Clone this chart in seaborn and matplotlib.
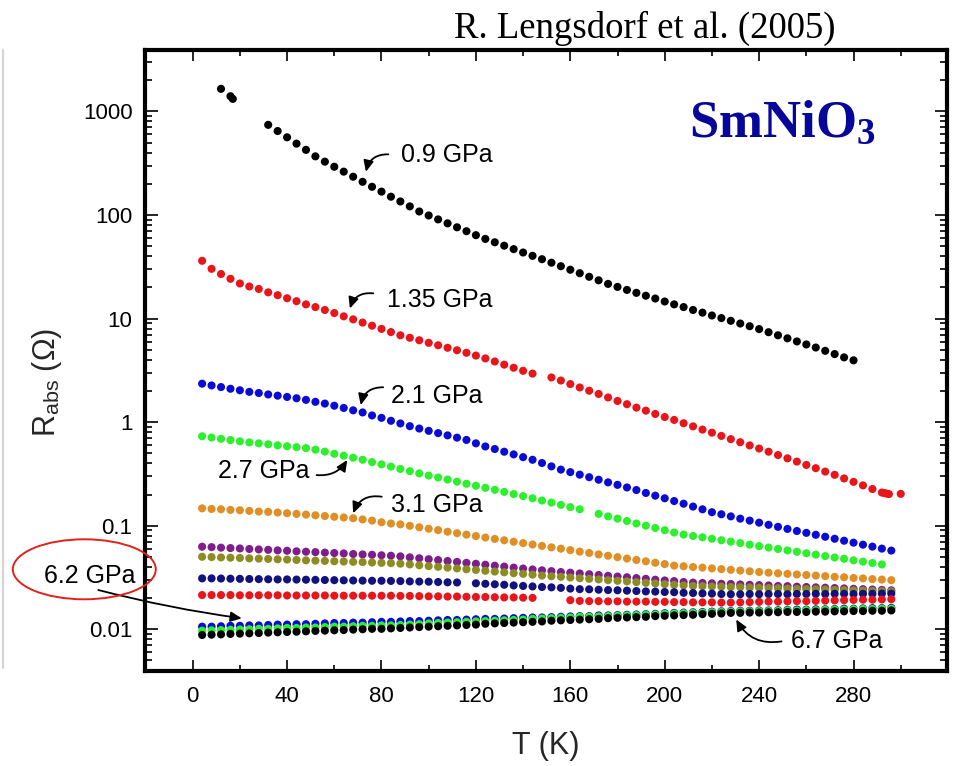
import matplotlib
matplotlib.use("Agg")
import matplotlib.pyplot as plt
import numpy as np
import pandas as pd
import seaborn as sns
from matplotlib.ticker import MultipleLocator, LogLocator, NullFormatter, FixedLocator, FixedFormatter
from matplotlib.patches import Ellipse
from matplotlib.lines import Line2D

# ---------------------------------------------------------------- data
T_FULL = [4, 8, 12, 16, 20, 24, 28, 32, 36, 40, 44, 48, 52, 56, 60, 64, 68, 72, 76, 80,
          84, 88, 92, 96, 100, 104, 108, 112, 116, 120, 124, 128, 132, 136, 140, 144, 148,
          152, 156, 160, 164, 168, 172, 176, 180, 184, 188, 192, 196, 200, 204, 208, 212,
          216, 220, 224, 228, 232, 236, 240, 244, 248, 252, 256, 260, 264, 268, 272, 276,
          280, 284, 288, 292, 296]

# 0.9 GPa (black)
T_09 = [12, 16, 17, 32, 36, 40, 44, 48, 52, 56, 60, 64, 68, 72, 76, 80, 84, 88, 92, 96, 100,
        104, 108, 112, 116, 120, 124, 128, 132, 136, 140, 144, 148, 152, 156, 160, 164, 168,
        172, 176, 180, 184, 188, 192, 196, 200, 204, 208, 212, 216, 220, 224, 228, 232, 236,
        240, 244, 248, 252, 256, 260, 264, 268, 272, 276, 280]
R_09 = [1650, 1400, 1320,
        741, 646, 562, 488, 425, 368, 327, 292, 262, 234,
        209, 187, 168, 150, 135, 121, 108, 98.9, 90.6, 83.0,
        76.0, 69.7, 63.8, 58.7, 54.5, 50.5, 46.8, 43.4, 40.3, 37.4,
        34.6, 32.0, 29.6, 27.4, 25.3, 23.4, 21.6, 20.2, 18.9, 17.7,
        16.6, 15.6, 14.6, 13.7, 12.9, 12.1, 11.4, 10.7, 10.1, 9.51,
        8.95, 8.43, 7.91, 7.38, 6.89, 6.44, 6.01, 5.62, 5.25, 4.88,
        4.54, 4.22, 3.95]

# 1.35 GPa (red)
T_135 = [4, 8, 12, 16, 20, 24, 28, 32, 36, 40, 44, 48, 52, 56, 60, 64, 68, 72, 76, 80, 84,
         88, 92, 96, 100, 104, 108, 112, 116, 120, 124, 128, 132, 136, 140, 144,
         152, 156, 160, 164, 168, 172, 176, 180, 184, 188, 192, 196, 200, 204, 208, 212,
         216, 220, 224, 228, 232, 236, 240, 244, 248, 252, 256, 260, 264, 268, 272, 276,
         280, 284, 288, 292, 293, 294, 295, 300]
R_135 = [36.1, 30.2, 26.9, 24.2, 21.8, 20.4, 19.3, 17.9, 16.8, 15.7, 14.7, 13.7, 12.9, 12.1,
         11.3, 10.5, 9.82, 9.14, 8.53, 7.94, 7.40, 6.89, 6.52, 6.17, 5.83, 5.52, 5.22, 4.94,
         4.67, 4.39, 4.12, 3.85, 3.59, 3.35, 3.13, 2.94,
         2.70, 2.52, 2.33, 2.16, 2.01, 1.87, 1.73, 1.60, 1.49, 1.38, 1.29, 1.20, 1.12, 1.05,
         0.975, 0.910, 0.847, 0.791, 0.736, 0.685, 0.640, 0.596, 0.556, 0.518, 0.481, 0.447,
         0.416, 0.386, 0.359, 0.333, 0.310, 0.286, 0.265, 0.245, 0.226, 0.209,
         0.207, 0.204, 0.202, 0.203]

# 2.1 GPa (blue), on T_FULL
R_21 = [2.35, 2.26, 2.18, 2.10, 2.03, 1.96, 1.91, 1.85, 1.80, 1.75,
        1.70, 1.64, 1.57, 1.51, 1.44, 1.37, 1.30, 1.24, 1.16, 1.10,
        1.03, 0.971, 0.914, 0.867, 0.824, 0.783, 0.745, 0.708, 0.673, 0.624,
        0.582, 0.550, 0.518, 0.488, 0.459, 0.433, 0.403, 0.374, 0.348, 0.329,
        0.311, 0.294, 0.278, 0.262, 0.248, 0.234, 0.221, 0.207, 0.195, 0.184,
        0.173, 0.163, 0.153, 0.144, 0.135, 0.129, 0.123, 0.117, 0.112, 0.107,
        0.102, 0.0975, 0.0931, 0.0889, 0.0853, 0.0817, 0.0782, 0.0748, 0.0716, 0.0686,
        0.0656, 0.0628, 0.0601, 0.0575]

# 2.7 GPa (green), on T_FULL (None = no point)
R_27 = [0.730, 0.710, 0.690, 0.671, 0.653, 0.637, 0.624, 0.611, 0.597, 0.585,
        0.573, 0.561, 0.542, 0.519, 0.495, 0.474, 0.454, 0.433, 0.411, 0.391,
        0.372, 0.353, 0.336, 0.320, 0.305, 0.292, 0.279, 0.266, 0.254, 0.243,
        0.232, 0.222, 0.212, 0.202, 0.193, 0.184, 0.175, 0.167, 0.159, 0.151,
        0.144, None, 0.130, 0.123, 0.117, 0.111, 0.105, 0.100, 0.0951, 0.0904,
        0.0859, 0.0822, 0.0796, 0.0773, 0.0748, 0.0724, 0.0702, 0.0679, 0.0656, 0.0635,
        0.0615, 0.0596, 0.0577, 0.0560, 0.0542, 0.0526, 0.0509, 0.0493, 0.0479, 0.0463,
        0.0450, 0.0436, 0.0423, None]

# 3.1 GPa (orange), on T_FULL
R_31 = [0.147, 0.145, 0.144, 0.142, 0.141, 0.139, 0.137, 0.136, 0.134, 0.132,
        0.130, 0.128, 0.126, 0.124, 0.122, 0.120, 0.118, 0.115, 0.112, 0.108,
        0.105, 0.103, 0.0998, 0.0966, 0.0935, 0.0906, 0.0875, 0.0847, 0.0820, 0.0794,
        0.0769, 0.0745, 0.0723, 0.0700, 0.0679, 0.0658, 0.0638, 0.0618, 0.0600, 0.0581,
        0.0562, 0.0546, 0.0528, 0.0513, 0.0497, 0.0482, 0.0467, 0.0453, 0.0439, 0.0426,
        0.0412, 0.0406, 0.0399, 0.0394, 0.0387, 0.0381, 0.0375, 0.0369, 0.0363, 0.0357,
        0.0352, 0.0347, 0.0343, 0.0338, 0.0334, 0.0330, 0.0326, 0.0321, 0.0318, 0.0313,
        0.0310, 0.0305, 0.0302, 0.0298]

# unlabelled higher-pressure curves, on T_FULL
R_PURPLE = [0.0627, 0.0621, 0.0614, 0.0608, 0.0603, 0.0596, 0.0590, 0.0585, 0.0578, 0.0573,
            0.0566, 0.0561, 0.0556, 0.0550, 0.0545, 0.0540, 0.0533, 0.0528, 0.0524, 0.0518,
            0.0513, 0.0506, 0.0495, 0.0485, 0.0475, 0.0466, 0.0456, 0.0447, 0.0438, 0.0429,
            0.0420, 0.0411, 0.0403, 0.0394, 0.0386, 0.0378, 0.0371, 0.0364, 0.0357, 0.0352,
            0.0346, 0.0340, 0.0334, 0.0328, 0.0323, 0.0318, 0.0312, 0.0307, 0.0301, 0.0296,
            0.0292, 0.0286, 0.0282, 0.0280, 0.0278, 0.0275, 0.0274, 0.0271, 0.0269, 0.0267,
            0.0265, 0.0262, 0.0261, 0.0258, 0.0256, 0.0254, 0.0252, 0.0250, 0.0248, 0.0246,
            0.0244, 0.0242, 0.0240, 0.0238]
R_OLIVE = [0.0501, 0.0498, 0.0494, 0.0491, 0.0488, 0.0484, 0.0481, 0.0478, 0.0474, 0.0471,
           0.0467, 0.0463, 0.0460, 0.0457, 0.0454, 0.0451, 0.0448, 0.0445, 0.0441, 0.0438,
           0.0435, 0.0430, 0.0423, 0.0415, 0.0407, 0.0401, 0.0394, 0.0387, 0.0380, 0.0374,
           0.0367, 0.0361, 0.0355, 0.0348, 0.0343, 0.0337, 0.0330, 0.0325, 0.0321, 0.0316,
           0.0311, 0.0307, 0.0303, 0.0298, 0.0294, 0.0290, 0.0285, 0.0281, 0.0277, 0.0273,
           0.0269, 0.0265, 0.0262, 0.0261, 0.0259, 0.0258, 0.0256, 0.0255, 0.0253, 0.0252,
           0.0250, 0.0249, 0.0247, 0.0245, 0.0244, 0.0243, 0.0242, 0.0240, 0.0239, 0.0237,
           0.0236, 0.0234, 0.0233, 0.0232]
R_NAVY = [0.0310, 0.0310, 0.0309, 0.0308, 0.0307, 0.0306, 0.0305, 0.0304, 0.0303, 0.0303,
          0.0302, 0.0301, 0.0300, 0.0299, 0.0298, 0.0297, 0.0296, 0.0295, 0.0294, 0.0294,
          0.0293, 0.0292, 0.0290, 0.0289, 0.0288, 0.0286, 0.0284, 0.0283, None, 0.0278,
          0.0275, 0.0272, 0.0269, 0.0265, 0.0262, 0.0259, 0.0256, 0.0254, 0.0251, 0.0247,
          0.0244, 0.0243, 0.0241, 0.0239, 0.0238, 0.0236, 0.0234, 0.0232, 0.0231, 0.0229,
          0.0228, 0.0225, 0.0224, 0.0222, 0.0221, 0.0219, 0.0218, 0.0218, 0.0219, 0.0218,
          0.0219, 0.0219, 0.0218, 0.0219, 0.0219, 0.0220, 0.0219, 0.0220, 0.0220, 0.0219,
          0.0220, 0.0220, 0.0221, 0.0221]
R_RED_LOW = [0.0214, 0.0214, 0.0214, 0.0214, 0.0213, 0.0213, 0.0213, 0.0213, 0.0213, 0.0212,
             0.0212, 0.0212, 0.0212, 0.0212, 0.0211, 0.0211, 0.0211, 0.0211, 0.0211, 0.0211,
             0.0211, 0.0210, 0.0210, 0.0209, 0.0208, 0.0208, 0.0207, 0.0207, 0.0206, 0.0205,
             0.0205, 0.0204, 0.0203, 0.0203, 0.0202, 0.0201, None, None, None, 0.0191,
             0.0188, 0.0187, 0.0187, 0.0186, 0.0186, 0.0185, 0.0185, 0.0185, 0.0184, 0.0184,
             0.0183, 0.0183, 0.0182, 0.0182, 0.0182, 0.0181, 0.0181, 0.0182, 0.0183, 0.0184,
             0.0185, 0.0185, 0.0186, 0.0187, 0.0187, 0.0188, 0.0189, 0.0190, 0.0191, 0.0192,
             0.0193, 0.0193, 0.0194, 0.0195]
R_BLUE_LOW = [0.0106, 0.0106, 0.0107, 0.0108, 0.0108, 0.0109, 0.0109, 0.0110, 0.0111, 0.0111,
              0.0112, 0.0112, 0.0113, 0.0114, 0.0115, 0.0115, 0.0116, 0.0116, 0.0117, 0.0118,
              0.0118, 0.0119, 0.0120, 0.0120, 0.0121, 0.0122, 0.0123, 0.0123, 0.0124, 0.0125,
              0.0126, 0.0126, 0.0127, 0.0128, 0.0129, 0.0130, 0.0130, 0.0131, 0.0132, 0.0133,
              0.0134, 0.0134, 0.0136, 0.0136, 0.0137, 0.0138, 0.0139, 0.0140, 0.0141, 0.0143,
              0.0144, 0.0145, 0.0146, 0.0147, 0.0148, 0.0149, 0.0150, 0.0151, 0.0151, 0.0152,
              0.0152, 0.0153, 0.0154, 0.0155, 0.0155, 0.0156, 0.0156, 0.0157, 0.0158, 0.0158,
              0.0159, 0.0160, 0.0160, 0.0161]
R_GREEN_LOW = [0.00970, 0.00977, 0.00982, 0.00989, 0.00995, 0.0100, 0.0101, 0.0101, 0.0102, 0.0103,
               0.0103, 0.0104, 0.0104, 0.0105, 0.0106, 0.0106, 0.0107, 0.0108, 0.0108, 0.0109,
               0.0109, 0.0110, 0.0111, 0.0112, 0.0114, 0.0115, 0.0116, 0.0117, 0.0118, 0.0119,
               0.0120, 0.0121, 0.0122, 0.0123, 0.0124, 0.0126, 0.0127, 0.0128, 0.0129, 0.0130,
               0.0132, 0.0132, 0.0133, 0.0134, 0.0135, 0.0136, 0.0137, 0.0138, 0.0139, 0.0141,
               0.0142, 0.0143, 0.0144, 0.0145, 0.0146, 0.0147, 0.0148, 0.0149, 0.0149, 0.0150,
               0.0150, 0.0151, 0.0152, 0.0152, 0.0153, 0.0153, 0.0154, 0.0155, 0.0155, 0.0156,
               0.0157, 0.0157, 0.0158, 0.0158]
# 6.7 GPa (black, lowest)
R_67 = [0.00881, 0.00887, 0.00893, 0.00902, 0.00908, 0.00914, 0.00920, 0.00929, 0.00935, 0.00942,
        0.00948, 0.00955, 0.00964, 0.00970, 0.00977, 0.00984, 0.00993, 0.0100, 0.0101, 0.0101,
        0.0102, 0.0103, 0.0104, 0.0105, 0.0106, 0.0107, 0.0108, 0.0109, 0.0110, 0.0111,
        0.0113, 0.0114, 0.0115, 0.0116, 0.0117, 0.0118, 0.0119, 0.0121, 0.0122, 0.0123,
        0.0124, 0.0125, 0.0126, 0.0128, 0.0129, 0.0130, 0.0131, 0.0132, 0.0134, 0.0135,
        0.0136, 0.0137, 0.0138, 0.0140, 0.0141, 0.0142, 0.0144, 0.0144, 0.0145, 0.0145,
        0.0146, 0.0146, 0.0147, 0.0147, 0.0147, 0.0148, 0.0148, 0.0149, 0.0149, 0.0150,
        0.0150, 0.0151, 0.0151, 0.0152]

SERIES_NAMES = ["0.9 GPa", "1.35 GPa", "2.1 GPa", "2.7 GPa", "3.1 GPa", "purple", "olive",
                "navy", "red (low)", "blue (low)", "green (low)", "6.7 GPa"]
SERIES_T = [T_09, T_135, T_FULL, T_FULL, T_FULL, T_FULL, T_FULL, T_FULL, T_FULL, T_FULL,
            T_FULL, T_FULL]
SERIES_R = [R_09, R_135, R_21, R_27, R_31, R_PURPLE, R_OLIVE, R_NAVY, R_RED_LOW, R_BLUE_LOW,
            R_GREEN_LOW, R_67]
SERIES_COLORS = ["#000000", "#e8161a", "#0b0bd6", "#2df02d", "#df8f25", "#7d1e8c", "#8c8c23",
                 "#12127e", "#e8161a", "#0b0bd6", "#2df02d", "#000000"]

X_TICKS = [0, 40, 80, 120, 160, 200, 240, 280, 320]
Y_TICKS = [0.01, 0.1, 1, 10, 100, 1000]
Y_TICK_LABELS = ["0.01", "0.1", "1", "10", "100", "1000"]

# ---------------------------------------------------------------- frame
rows = []
for name, ts, rs in zip(SERIES_NAMES, SERIES_T, SERIES_R):
    assert len(ts) == len(rs), (name, len(ts), len(rs))
    for t, r in zip(ts, rs):
        if r is not None:
            rows.append((name, t, r))
df = pd.DataFrame(rows, columns=["series", "T", "R"])
palette = dict(zip(SERIES_NAMES, SERIES_COLORS))

sns.set_style("ticks")
plt.rcParams["font.family"] = ["Liberation Sans", "DejaVu Sans"]
plt.rcParams["mathtext.fontset"] = "custom"
plt.rcParams["mathtext.rm"] = "Liberation Serif"
plt.rcParams["mathtext.bf"] = "Liberation Serif:bold"
plt.rcParams["mathtext.it"] = "Liberation Serif:italic"
plt.rcParams["mathtext.sf"] = "Liberation Sans"

W, H = 971, 766
fig = plt.figure(figsize=(W / 100, H / 100), dpi=100)
fig.patch.set_facecolor("white")
AX_L, AX_R, AX_T, AX_B = 145, 947, 50.5, 670.5
ax = fig.add_axes([AX_L / W, 1 - AX_B / H, (AX_R - AX_L) / W, (AX_B - AX_T) / H])

sns.scatterplot(data=df, x="T", y="R", hue="series", hue_order=SERIES_NAMES,
                palette=palette, s=34, linewidth=0, legend=False, ax=ax, zorder=3)

ax.set_yscale("log")
ax.set_xlim(-20.2, 319.6)
ax.set_ylim(0.0040, 3870)

ax.xaxis.set_major_locator(FixedLocator(X_TICKS))
ax.xaxis.set_major_formatter(FixedFormatter([str(v) for v in X_TICKS]))
ax.xaxis.set_minor_locator(MultipleLocator(20))
ax.yaxis.set_major_locator(FixedLocator(Y_TICKS))
ax.yaxis.set_major_formatter(FixedFormatter(Y_TICK_LABELS))
ax.yaxis.set_minor_locator(LogLocator(base=10, subs=(2, 3, 4, 5, 6, 7, 8, 9), numticks=30))
ax.yaxis.set_minor_formatter(NullFormatter())

for sp in ax.spines.values():
    sp.set_linewidth(3.0)
    sp.set_color("black")
    sp.set_visible(True)

ax.tick_params(which="both", direction="in", top=True, right=True, width=1.2,
               colors="black", labelsize=16)
ax.tick_params(axis="x", which="major", length=8, pad=11)
ax.tick_params(axis="x", which="minor", length=4)
ax.tick_params(axis="y", which="major", length=9, pad=9)
ax.tick_params(axis="y", which="minor", length=5)

ax.set_xlabel("T (K)", fontsize=22)
ax.xaxis.set_label_coords(0.5, (AX_B - 731) / (AX_B - AX_T))
ax.set_ylabel(r"R$_{\mathsf{abs}}$ (Ω)", fontsize=22)
ax.yaxis.set_label_coords((64 - AX_L) / (AX_R - AX_L), (AX_B - 382) / (AX_B - AX_T))

# ---------------------------------------------------------------- annotations
TXT = dict(fontsize=18, color="black", va="baseline")
ax.text(88.1, 324, "0.9 GPa", ha="left", **TXT)
ax.text(82.4, 13.0, "1.35 GPa", ha="left", **TXT)
ax.text(83.9, 1.52, "2.1 GPa", ha="left", **TXT)
ax.text(49.4, 0.287, "2.7 GPa", ha="right", **TXT)
ax.text(83.9, 0.1365, "3.1 GPa", ha="left", **TXT)
ax.text(253.4, 0.00659, "6.7 GPa", ha="left", **TXT)
fig.text(90 / W, 1 - 583.3 / H, "6.2 GPa", ha="center", **TXT)

ARROW = dict(arrowstyle="-|>,head_length=0.55,head_width=0.25", color="black", lw=1.3,
             mutation_scale=12, shrinkA=0, shrinkB=0)
arrows = [((82.9, 385), (73.4, 261), 0.4),
          ((76.5, 17.5), (66.6, 12.5), 0.4),
          ((80.7, 2.17), (71.2, 1.46), 0.4),
          ((52.5, 0.308), (65.5, 0.431), 0.3),
          ((80.1, 0.1905), (68.0, 0.1318), 0.4),
          ((249.5, 0.00764), (230.3, 0.01244), -0.35)]
for tail, head, rad in arrows:
    ax.annotate("", xy=head, xycoords="data", xytext=tail, textcoords="data",
                arrowprops=dict(connectionstyle=f"arc3,rad={rad}", **ARROW), zorder=5)
ax.annotate("", xy=(20.8, 0.01277), xycoords="data",
            xytext=(98.3 / W, 1 - 590 / H), textcoords="figure fraction",
            arrowprops=dict(connectionstyle="arc3,rad=0.03", **ARROW),
            annotation_clip=False, zorder=5)

# red highlight ellipse around 6.2 GPa label
fig.add_artist(Ellipse((84.3 / W, 1 - 569.3 / H), 143 / W, 60 / H,
                       transform=fig.transFigure, fill=False, ec="#e3201b", lw=1.4))

# faint left border line of the original screenshot
fig.add_artist(Line2D([2.5 / W, 2.5 / W], [1 - 50 / H, 1 - 668 / H],
                      transform=fig.transFigure, color="#d4d4d4", lw=1.5))

# title and compound name
fig.text(645 / W, 1 - 28 / H, "R. Lengsdorf et al. (2005)", family="Liberation Serif",
         fontsize=26.5, ha="center", va="center", color="black")
fig.text(689 / W, 1 - 137 / H, r"$\mathbf{SmNiO}_{\mathbf{3}}$", fontsize=38,
         color="#06069a", ha="left", va="baseline")

fig.savefig("out.png", dpi=100, facecolor="white")
